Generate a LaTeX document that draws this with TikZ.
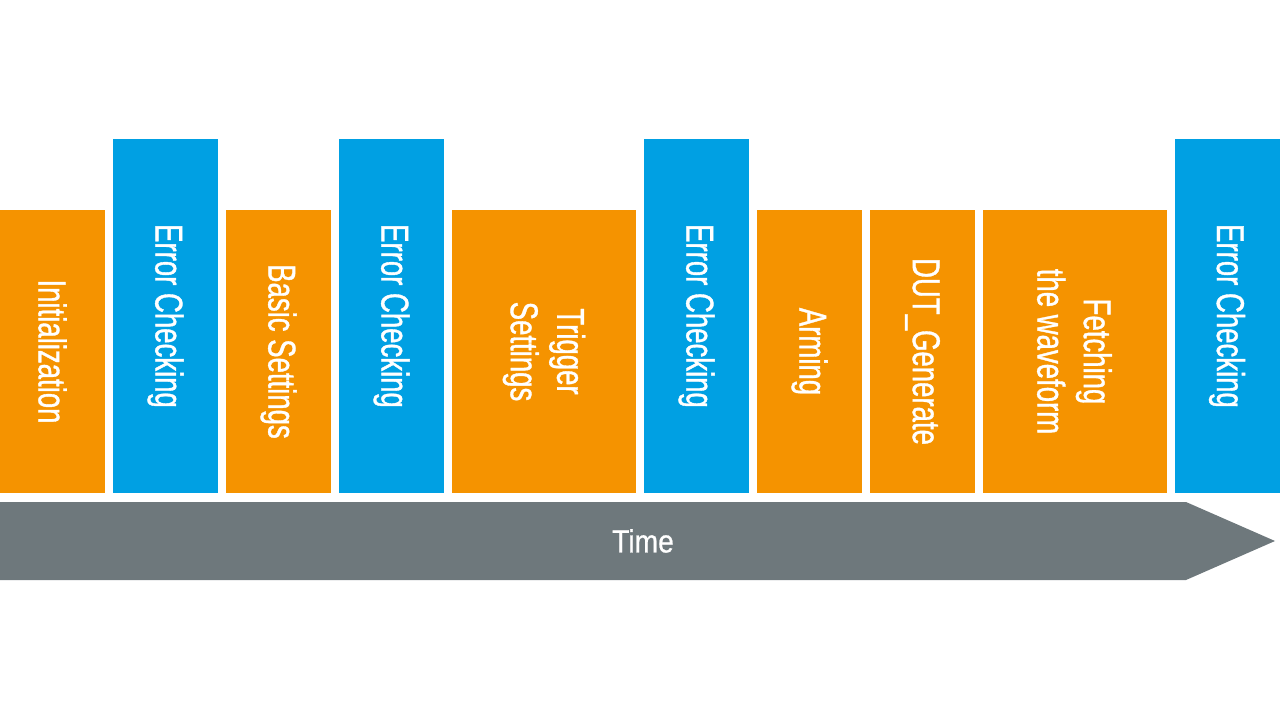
\documentclass[tikz,border=0pt]{standalone}
\usepackage{fontspec}
\setmainfont{Liberation Sans}
\newfontfamily\boxfont[FakeStretch=0.71,FakeBold=0.9]{Liberation Sans}
\newfontfamily\timefont[FakeStretch=0.88,FakeBold=0.7]{Liberation Sans}
\usetikzlibrary{positioning}
\definecolor{steporange}{HTML}{F59300}
\definecolor{stepblue}{HTML}{00A0E3}
\definecolor{timegray}{HTML}{6E787C}
\newcommand{\pix}{0.025cm}
\tikzset{
    stepbox/.style = {rectangle, rotate=-90, inner sep=0pt, align=center, text=white,
        font={\boxfont\fontsize{27.6}{33}\selectfont}, minimum height=105*\pix},
    setupbox/.style = {stepbox, fill=steporange, minimum width=283*\pix},
    checkbox/.style = {stepbox, fill=stepblue, minimum width=354*\pix},
    widebox/.style = {minimum height=184*\pix},
    timebar/.style = {fill=timegray},
    timelabel/.style = {text=white, inner sep=0pt, font={\timefont\fontsize{22.8}{26}\selectfont}}
}
\begin{document}
\begin{tikzpicture}[x=\pix,y=-\pix]
\useasboundingbox (0,0) rectangle (1280,720);
%
\node[setupbox] at (52.5, 351.5) (init) {Initialization};
\node[checkbox] at (165.5, 316) (check1) {Error Checking};
\node[setupbox] at (278.5, 351.5) (basic) {Basic Settings};
\node[checkbox] at (391.5, 316) (check2) {Error Checking};
\node[setupbox, widebox] at (544, 351.5) (trigger) {Trigger\\Settings};
\node[checkbox] at (696.5, 316) (check3) {Error Checking};
\node[setupbox] at (809.5, 351.5) (arming) {Arming};
\node[setupbox] at (922.5, 351.5) (dut) {DUT\_Generate};
\node[setupbox, widebox] at (1074.5, 351.5) (fetch) {Fetching\\the waveform};
\node[checkbox] at (1227, 316) (check4) {Error Checking};
%
\fill[timebar] (0,502) -- (1186,502) -- (1275,541) -- (1186,580) -- (0,580) -- cycle;
\node[timelabel] at (643, 541) (time) {Time};

\end{tikzpicture}
\end{document}
